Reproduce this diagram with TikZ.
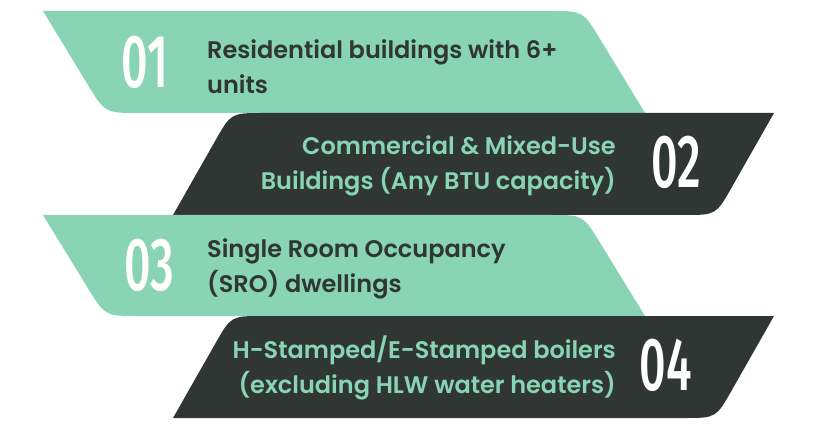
\documentclass[tikz,border=0pt]{standalone}
\usepackage{fontspec}
\usetikzlibrary{calc}
\newfontfamily\txtfont{Poppins SemiBold}
\newfontfamily\numfont{Fira Sans Medium}
\definecolor{mint}{HTML}{88D4B5}
\definecolor{ink}{HTML}{2F3633}
\begin{document}
\begin{tikzpicture}[x=1pt,y=-1pt,
  lbl/.style={font=\txtfont\fontsize{24}{35}\selectfont, inner sep=0pt},
  num/.style={font=\numfont\fontsize{75}{75}\selectfont, text=white, inner sep=0pt, xscale=0.62},
]
\useasboundingbox (0,0) rectangle (818,438);
% band 1 (mint)
\coordinate (a1) at (43,11);  \coordinate (b1) at (583,11);
\coordinate (c1) at (645,113); \coordinate (d1) at (105,113);
\fill[mint] (a1) -- ($(b1)!32pt!(a1)$) .. controls (b1) .. ($(b1)!32pt!(c1)$) -- (c1)
  -- ($(d1)!34pt!(c1)$) .. controls (d1) .. ($(d1)!34pt!(a1)$) -- cycle;
% band 2 (dark)
\coordinate (a2) at (231,113); \coordinate (b2) at (774,113);
\coordinate (c2) at (716,215); \coordinate (d2) at (173,215);
\fill[ink] (d2) -- ($(a2)!32pt!(d2)$) .. controls (a2) .. ($(a2)!32pt!(b2)$) -- (b2)
  -- ($(c2)!32pt!(b2)$) .. controls (c2) .. ($(c2)!32pt!(d2)$) -- cycle;
% band 3 (mint)
\coordinate (a3) at (43,215);  \coordinate (b3) at (583,215);
\coordinate (c3) at (645,316); \coordinate (d3) at (105,316);
\fill[mint] (a3) -- ($(b3)!32pt!(a3)$) .. controls (b3) .. ($(b3)!32pt!(c3)$) -- (c3)
  -- ($(d3)!34pt!(c3)$) .. controls (d3) .. ($(d3)!34pt!(a3)$) -- cycle;
% band 4 (dark)
\coordinate (a4) at (231,316); \coordinate (b4) at (774,316);
\coordinate (c4) at (716,418); \coordinate (d4) at (173,418);
\fill[ink] (d4) -- ($(a4)!32pt!(d4)$) .. controls (a4) .. ($(a4)!32pt!(b4)$) -- (b4)
  -- ($(c4)!32pt!(b4)$) .. controls (c4) .. ($(c4)!32pt!(d4)$) -- cycle;
% numbers
\node[num] (n1) at (145,62) {01};
\node[num] (n2) at (676,162) {02};
\node[num] (n3) at (149,265) {03};
\node[num] (n4) at (666,365) {04};
% texts (base anchor = baseline of the last line)
\node[lbl, text=ink, align=left, anchor=base west] (t1) at (207,94) {Residential buildings with 6+\\units};
\node[lbl, text=mint, align=right, anchor=base east] (t2) at (616,190) {Commercial \& Mixed-Use\\Buildings (Any BTU capacity)};
\node[lbl, text=ink, align=left, anchor=base west] (t3) at (207,292) {Single Room Occupancy\\(SRO) dwellings};
\node[lbl, text=mint, align=right, anchor=base east] (t4) at (616,393) {H-Stamped/E-Stamped boilers\\(excluding HLW water heaters)};
\end{tikzpicture}
\end{document}
